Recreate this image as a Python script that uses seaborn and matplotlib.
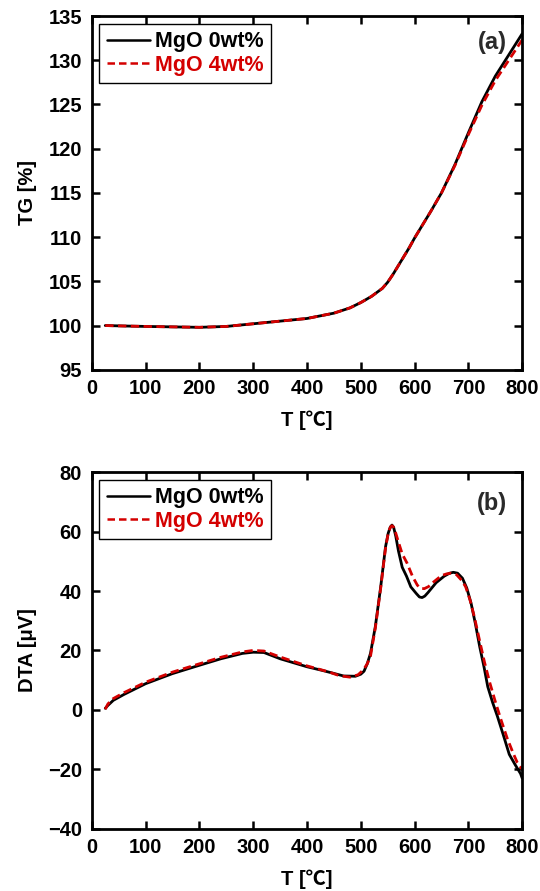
import numpy as np
import pandas as pd
import matplotlib
matplotlib.use("Agg")
import matplotlib.pyplot as plt
import seaborn as sns

# TG data (temperature in C, mass in %)
tg_t0 = [25, 60, 100, 150, 200, 250, 300, 350, 400, 450, 480, 500, 520, 540, 550,
         560, 575, 590, 600, 615, 630, 650, 675, 700, 725, 750, 775, 800]
tg_v0 = [100.0, 99.95, 99.9, 99.85, 99.8, 99.9, 100.2, 100.5, 100.8, 101.4, 102.0,
         102.6, 103.3, 104.2, 104.9, 105.8, 107.3, 108.8, 109.9, 111.4, 112.9, 115.0,
         118.2, 121.8, 125.3, 128.2, 130.6, 133.0]
tg_t4 = tg_t0
tg_v4 = [100.0, 99.95, 99.9, 99.85, 99.8, 99.9, 100.2, 100.5, 100.8, 101.4, 102.0,
         102.6, 103.3, 104.2, 104.9, 105.8, 107.3, 108.8, 109.9, 111.4, 112.9, 115.0,
         118.1, 121.6, 124.9, 127.7, 130.0, 132.3]

# DTA data (temperature in C, signal in uV)
dta_t0 = [25, 30, 40, 60, 100, 150, 200, 240, 280, 300, 320, 350, 400, 430, 445, 468,
          490, 500, 506, 512, 518, 527, 537, 546, 551, 555, 558, 561, 565, 570, 577,
          585, 593, 603, 609, 614, 619, 625, 640, 655, 665, 672, 680, 689, 697, 705,
          713, 721, 729, 736, 745, 754, 765, 776, 787, 797, 800]
dta_v0 = [0.5, 1.5, 3.2, 5.2, 8.8, 12.2, 15.0, 17.2, 19.0, 19.4, 19.3, 17.2, 14.5,
          13.2, 12.5, 11.4, 11.3, 12.0, 13.0, 15.5, 19.0, 28.0, 41.4, 54.9, 59.5,
          61.6, 62.2, 61.5, 58.5, 53.5, 48.0, 45.0, 41.4, 39.2, 38.0, 37.8, 38.3,
          39.5, 42.8, 45.0, 46.0, 46.3, 46.0, 44.3, 41.0, 35.9, 29.0, 21.3, 14.5,
          7.8, 2.5, -2.2, -8.5, -15.0, -18.5, -21.5, -23.0]
dta_t4 = [25, 30, 40, 60, 100, 150, 200, 240, 280, 300, 320, 350, 400, 440, 460, 480,
          495, 505, 512, 518, 527, 537, 546, 551, 555, 558, 561, 565, 570, 577, 586,
          596, 605, 611, 618, 626, 635, 650, 660, 668, 678, 688, 695, 703, 711, 720,
          730, 740, 750, 760, 772, 783, 791, 800]
dta_v4 = [0.2, 2.0, 3.8, 5.8, 9.3, 12.7, 15.5, 17.7, 19.5, 20.0, 19.8, 17.8, 14.8,
          12.8, 11.5, 11.0, 11.8, 13.5, 15.5, 18.0, 27.5, 41.0, 54.5, 59.5, 61.5,
          62.0, 61.5, 59.5, 56.5, 52.5, 49.4, 45.0, 42.0, 40.9, 40.8, 41.5, 43.0,
          45.2, 45.8, 46.0, 45.5, 43.5, 41.4, 37.0, 31.4, 24.0, 16.0, 9.0, 2.8,
          -3.0, -9.5, -14.5, -17.8, -20.0]

labels = ["MgO 0wt%", "MgO 4wt%"]
colors = ["black", "#d40000"]

sns.set_style("ticks", {"axes.edgecolor": "black", "text.color": "black",
                        "axes.labelcolor": "black", "xtick.color": "black",
                        "ytick.color": "black"})
plt.rcParams['font.family'] = ['Liberation Sans', 'Noto Sans CJK JP', 'DejaVu Sans']
plt.rcParams['font.weight'] = 'bold'
plt.rcParams['axes.labelweight'] = 'bold'


def make_df(t0, v0, t4, v4):
    d0 = pd.DataFrame({"T": t0, "v": v0, "s": labels[0]})
    d4 = pd.DataFrame({"T": t4, "v": v4, "s": labels[1]})
    return pd.concat([d0, d4], ignore_index=True)


fig = plt.figure(figsize=(5.4, 8.91), dpi=100)
ax1 = fig.add_axes([0.170, 0.585, 0.797, 0.397])
ax2 = fig.add_axes([0.170, 0.070, 0.797, 0.400])

panels = [
    (ax1, make_df(tg_t0, tg_v0, tg_t4, tg_v4), "TG [%]", (95, 135),
     np.arange(95, 136, 5), "(a)", 0.925),
    (ax2, make_df(dta_t0, dta_v0, dta_t4, dta_v4), "DTA [\u03bcV]", (-40, 80),
     np.arange(-40, 81, 20), "(b)", 0.913),
]

for ax, df, ylab, ylim, yticks, tag, tag_y in panels:
    sns.lineplot(data=df, x="T", y="v", hue="s", style="s",
                 palette=colors, dashes=[(None, None), (3, 1.6)],
                 linewidth=2, sort=False, estimator=None, ax=ax)
    ax.set_xlim(0, 800)
    ax.set_ylim(*ylim)
    ax.set_xticks(np.arange(0, 801, 100))
    ax.set_yticks(yticks)
    ax.set_xlabel("T [\u2103]", fontsize=14.5, fontweight='bold', labelpad=9)
    ax.set_ylabel(ylab, fontsize=14.5, fontweight='bold', labelpad=8)
    ax.tick_params(direction='in', length=6, width=1.8, top=True, right=True,
                   labelsize=14.5, pad=7, colors='black')
    for lab in ax.get_xticklabels() + ax.get_yticklabels():
        lab.set_fontweight('bold')
    for sp in ax.spines.values():
        sp.set_linewidth(2)
        sp.set_color('black')
        sp.set_visible(True)
    leg = ax.legend(loc='upper left', frameon=True, fancybox=False,
                    fontsize=15.5, handlelength=2.0, borderpad=0.35,
                    labelspacing=0.12, handletextpad=0.25,
                    bbox_to_anchor=(0.0, 1.0), borderaxespad=0.35)
    leg.get_frame().set_edgecolor('black')
    leg.get_frame().set_linewidth(1.0)
    leg.get_frame().set_alpha(1)
    for txt, c in zip(leg.get_texts(), colors):
        txt.set_color(c)
        txt.set_fontweight('bold')
    for h in leg.get_lines():
        h.set_linewidth(1.8)
    ax.text(0.965, tag_y, tag, transform=ax.transAxes, ha='right', va='center',
            fontsize=17, fontweight='bold', color='#2a2a2a')

fig.savefig("out.png", dpi=100)
